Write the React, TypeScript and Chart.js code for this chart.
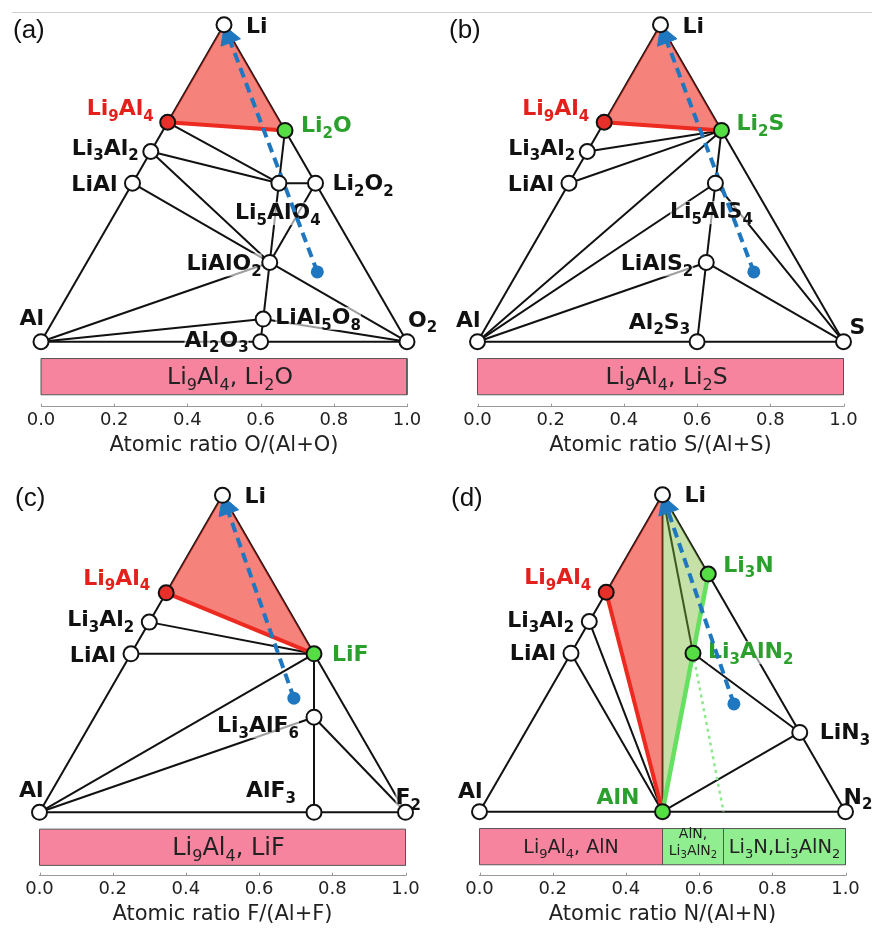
import React, { useEffect, useRef } from "react";
import { Chart, registerables } from "chart.js";

Chart.register(...registerables);

// ---------------- data ----------------
// Phase: [formula, Li atomic fraction, anion atomic fraction]
type Phase = [string, number, number];
type Tie = [string, string];
type BarSeg = [number, number, string];

const TICK_VALUES = [0, 0.2, 0.4, 0.6, 0.8, 1.0];

// ---- Li-Al-O ----
const PHASES_O: Phase[] = [
  ["Li", 1, 0], ["Al", 0, 0], ["O2", 0, 1],
  ["Li9Al4", 9 / 13, 0], ["Li3Al2", 3 / 5, 0], ["LiAl", 1 / 2, 0],
  ["Li2O", 2 / 3, 1 / 3], ["Li2O2", 1 / 2, 1 / 2], ["Li5AlO4", 5 / 10, 4 / 10],
  ["LiAlO2", 1 / 4, 2 / 4], ["LiAl5O8", 1 / 14, 8 / 14], ["Al2O3", 0, 3 / 5],
];
const TIES_O: Tie[] = [
  ["Al", "Li"], ["Li", "O2"], ["Al", "O2"],
  ["Li9Al4", "Li5AlO4"], ["Li3Al2", "Li5AlO4"], ["Li3Al2", "LiAlO2"], ["LiAl", "LiAlO2"],
  ["Li2O", "Li5AlO4"], ["Li5AlO4", "Li2O2"], ["Li5AlO4", "LiAlO2"], ["Li2O2", "LiAlO2"],
  ["LiAlO2", "O2"], ["LiAlO2", "Al"], ["LiAlO2", "LiAl5O8"], ["Al", "LiAl5O8"],
  ["LiAl5O8", "O2"], ["LiAl5O8", "Al2O3"],
];
const RED_TIES_O: Tie[] = [["Li9Al4", "Li2O"]];
const RED_REGION_O = ["Li", "Li9Al4", "Li2O"];
const PRODUCTS_O = ["Li2O"];
const START_O: [number, number] = [0.22, 0.645];
const BAR_O: BarSeg[] = [[0, 1, "Li9Al4, Li2O"]];

// ---- Li-Al-S ----
const PHASES_S: Phase[] = [
  ["Li", 1, 0], ["Al", 0, 0], ["S", 0, 1],
  ["Li9Al4", 9 / 13, 0], ["Li3Al2", 3 / 5, 0], ["LiAl", 1 / 2, 0],
  ["Li2S", 2 / 3, 1 / 3], ["Li5AlS4", 5 / 10, 4 / 10], ["LiAlS2", 1 / 4, 2 / 4], ["Al2S3", 0, 3 / 5],
];
const TIES_S: Tie[] = [
  ["Al", "Li"], ["Li", "S"], ["Al", "S"],
  ["Li3Al2", "Li2S"], ["LiAl", "Li2S"], ["Al", "Li2S"], ["Al", "Li5AlS4"], ["Al", "LiAlS2"],
  ["Li2S", "Li5AlS4"], ["Li5AlS4", "LiAlS2"], ["Li5AlS4", "S"], ["LiAlS2", "Al2S3"], ["LiAlS2", "S"],
];
const RED_TIES_S: Tie[] = [["Li9Al4", "Li2S"]];
const RED_REGION_S = ["Li", "Li9Al4", "Li2S"];
const PRODUCTS_S = ["Li2S"];
const START_S: [number, number] = [0.22, 0.645];
const BAR_S: BarSeg[] = [[0, 1, "Li9Al4, Li2S"]];

// ---- Li-Al-F ----
const PHASES_F: Phase[] = [
  ["Li", 1, 0], ["Al", 0, 0], ["F2", 0, 1],
  ["Li9Al4", 9 / 13, 0], ["Li3Al2", 3 / 5, 0], ["LiAl", 1 / 2, 0],
  ["LiF", 1 / 2, 1 / 2], ["Li3AlF6", 3 / 10, 6 / 10], ["AlF3", 0, 3 / 4],
];
const TIES_F: Tie[] = [
  ["Al", "Li"], ["Li", "F2"], ["Al", "F2"],
  ["Li3Al2", "LiF"], ["LiAl", "LiF"], ["Al", "LiF"], ["Al", "Li3AlF6"],
  ["LiF", "Li3AlF6"], ["Li3AlF6", "AlF3"], ["Li3AlF6", "F2"],
];
const RED_TIES_F: Tie[] = [["Li9Al4", "LiF"]];
const RED_REGION_F = ["Li", "Li9Al4", "LiF"];
const PRODUCTS_F = ["LiF"];
const START_F: [number, number] = [0.36, 0.515];
const BAR_F: BarSeg[] = [[0, 1, "Li9Al4, LiF"]];

// ---- Li-Al-N ----
const PHASES_N: Phase[] = [
  ["Li", 1, 0], ["Al", 0, 0], ["N2", 0, 1],
  ["Li9Al4", 9 / 13, 0], ["Li3Al2", 3 / 5, 0], ["LiAl", 1 / 2, 0],
  ["AlN", 0, 1 / 2], ["Li3N", 3 / 4, 1 / 4], ["Li3AlN2", 3 / 6, 2 / 6], ["LiN3", 1 / 4, 3 / 4],
];
const TIES_N: Tie[] = [
  ["Al", "Li"], ["Li", "N2"], ["Al", "N2"],
  ["LiAl", "AlN"], ["Li3Al2", "AlN"], ["Li", "AlN"], ["Li", "Li3AlN2"],
  ["Li3AlN2", "LiN3"], ["AlN", "LiN3"],
];
const RED_TIES_N: Tie[] = [["Li9Al4", "AlN"]];
const GREEN_TIES_N: Tie[] = [["Li3N", "AlN"]];
const RED_REGION_N = ["Li", "Li9Al4", "AlN"];
const GREEN_REGION_N = ["Li", "Li3N", "AlN"];
// dotted guide from Li3AlN2 to the base at N/(Al+N) = 2/3 (composition [Li, N])
const GUIDE_N: [string, [number, number]][] = [["Li3AlN2", [0, 2 / 3]]];
const PRODUCTS_N = ["AlN", "Li3N", "Li3AlN2"];
const START_N: [number, number] = [0.34, 0.525];
const BAR_N: BarSeg[] = [[0, 0.5, "Li9Al4, AlN"], [0.5, 2 / 3, "AlN,\nLi3AlN2"], [2 / 3, 1, "Li3N,Li3AlN2"]];

// ---------------- styles / layout ----------------
const K = 366; // px per composition unit (both axes)
const H = Math.sqrt(3) / 2;
const PAD_TOP = 4;
const AXIS_H = 21.6 + 6 + 22.05;
const BAR_TOP = -0.046;
const BAR_BOTTOM = -0.145;

const INK = "#111111";
const RED_TXT = "#e3201b";
const GREEN_TXT = "#2ca02c";
const RED_DOT = "#e8302a";
const GREEN_DOT = "#55dd44";
const RED_FILL = "rgba(240,40,30,0.58)";
const GREEN_FILL = "rgba(120,185,50,0.43)";
const RED_LINE = "#ec2a20";
const GREEN_LINE = "#66e060";
const GUIDE_COLOR = "#8ee88e";
const BLUE = "#1f77c0";
const PINK = "#f7849f";
const LGREEN = "#90ee90";
const FONT = '"DejaVu Sans", "Liberation Sans", sans-serif';

type LabelSpec = [string, string, number, number, "left" | "right" | "center", "k" | "r" | "g"];

const LABELS_O: LabelSpec[] = [
  ["Li", "Li", 22, 8, "left", "k"],
  ["Li9Al4", "Li9Al4", -14, -7, "right", "r"],
  ["Li2O", "Li2O", 16, 2, "left", "g"],
  ["Li3Al2", "Li3Al2", -12, 3, "right", "k"],
  ["LiAl", "LiAl", -15, 8, "right", "k"],
  ["Li2O2", "Li2O2", 17, 7, "left", "k"],
  ["Li5AlO4", "Li5AlO4", -1, 36, "center", "k"],
  ["LiAlO2", "LiAlO2", -8, 8, "right", "k"],
  ["LiAl5O8", "LiAl5O8", 12, 5, "left", "k"],
  ["Al2O3", "Al2O3", -12, 5, "right", "k"],
  ["Al", "Al", 3, -17, "right", "k"],
  ["O2", "O2", 1, -15, "left", "k"],
];
const LABELS_S: LabelSpec[] = [
  ["Li", "Li", 22, 8, "left", "k"],
  ["Li9Al4", "Li9Al4", -15, -7, "right", "r"],
  ["Li2S", "Li2S", 15, 0, "left", "g"],
  ["Li3Al2", "Li3Al2", -12, 3, "right", "k"],
  ["LiAl", "LiAl", -15, 8, "right", "k"],
  ["Li5AlS4", "Li5AlS4", -4, 35, "center", "k"],
  ["LiAlS2", "LiAlS2", -13, 8, "right", "k"],
  ["Al2S3", "Al2S3", -7, -13, "right", "k"],
  ["Al", "Al", 3, -15, "right", "k"],
  ["S", "S", 6, -8, "left", "k"],
];
const LABELS_F: LabelSpec[] = [
  ["Li", "Li", 22, 8, "left", "k"],
  ["Li9Al4", "Li9Al4", -16, -8, "right", "r"],
  ["Li3Al2", "Li3Al2", -15, 4, "right", "k"],
  ["LiAl", "LiAl", -15, 8, "right", "k"],
  ["LiF", "LiF", 18, 7, "left", "g"],
  ["Li3AlF6", "Li3AlF6", -15, 15, "right", "k"],
  ["AlF3", "AlF3", -18, -15, "right", "k"],
  ["Al", "Al", 4, -15, "right", "k"],
  ["F2", "F2", -10, -8, "left", "k"],
];
const LABELS_N: LabelSpec[] = [
  ["Li", "Li", 22, 7, "left", "k"],
  ["Li9Al4", "Li9Al4", -15, -8, "right", "r"],
  ["Li3Al2", "Li3Al2", -15, 5, "right", "k"],
  ["LiAl", "LiAl", -15, 7, "right", "k"],
  ["Li3N", "Li3N", 15, -2, "left", "g"],
  ["Li3AlN2", "Li3AlN2", 15, 5, "left", "g"],
  ["LiN3", "LiN3", 20, 7, "left", "k"],
  ["AlN", "AlN", -23, -8, "right", "g"],
  ["Al", "Al", 3, -14, "right", "k"],
  ["N2", "N2", -2, -8, "left", "k"],
];

interface Layout {
  left: number; top: number; height: number; padLeft: number;
  baseY: number; axisY: number; tagX: number; tagY: number;
}

interface PanelCfg {
  tag: string; axisTitle: string;
  phases: Phase[]; ties: Tie[]; redTies: Tie[]; greenTies: Tie[];
  guides: [string, [number, number]][];
  redRegion: string[]; greenRegion: string[] | null;
  products: string[]; start: [number, number];
  bar: BarSeg[]; barColors: string[]; barDx: number[]; barFont: number[];
  labels: LabelSpec[]; layout: Layout;
}

const PANELS: PanelCfg[] = [
  {
    tag: "(a)", axisTitle: "Atomic ratio O/(Al+O)",
    phases: PHASES_O, ties: TIES_O, redTies: RED_TIES_O, greenTies: [], guides: [],
    redRegion: RED_REGION_O, greenRegion: null, products: PRODUCTS_O, start: START_O,
    bar: BAR_O, barColors: [PINK], barDx: [6], barFont: [23.5], labels: LABELS_O,
    layout: { left: 0, top: 0, height: 464, padLeft: 41, baseY: 341.7, axisY: 406.7, tagX: 13, tagY: 38 },
  },
  {
    tag: "(b)", axisTitle: "Atomic ratio S/(Al+S)",
    phases: PHASES_S, ties: TIES_S, redTies: RED_TIES_S, greenTies: [], guides: [],
    redRegion: RED_REGION_S, greenRegion: null, products: PRODUCTS_S, start: START_S,
    bar: BAR_S, barColors: [PINK], barDx: [6], barFont: [23.5], labels: LABELS_S,
    layout: { left: 436, top: 0, height: 464, padLeft: 41.5, baseY: 341.7, axisY: 406.7, tagX: 13, tagY: 38 },
  },
  {
    tag: "(c)", axisTitle: "Atomic ratio F/(Al+F)",
    phases: PHASES_F, ties: TIES_F, redTies: RED_TIES_F, greenTies: [], guides: [],
    redRegion: RED_REGION_F, greenRegion: null, products: PRODUCTS_F, start: START_F,
    bar: BAR_F, barColors: [PINK], barDx: [6], barFont: [24], labels: LABELS_F,
    layout: { left: 0, top: 470, height: 458, padLeft: 39.5, baseY: 342.3, axisY: 405.7, tagX: 15, tagY: 36 },
  },
  {
    tag: "(d)", axisTitle: "Atomic ratio N/(Al+N)",
    phases: PHASES_N, ties: TIES_N, redTies: RED_TIES_N, greenTies: GREEN_TIES_N, guides: GUIDE_N,
    redRegion: RED_REGION_N, greenRegion: GREEN_REGION_N, products: PRODUCTS_N, start: START_N,
    bar: BAR_N, barColors: [PINK, LGREEN, LGREEN], barDx: [0, 0, 0], barFont: [19, 14, 19.5], labels: LABELS_N,
    layout: { left: 436, top: 470, height: 458, padLeft: 43.5, baseY: 341.7, axisY: 405.7, tagX: 15, tagY: 36 },
  },
];

// ---------------- helpers ----------------
function toXY(li: number, an: number) {
  return { x: an + li / 2, y: li * H };
}

function drawFormula(
  ctx: CanvasRenderingContext2D, text: string, x: number, y: number, size: number,
  bold: boolean, color: string, align: "left" | "right" | "center", bg?: string
) {
  const w = bold ? "bold " : "";
  const mainF = `${w}${size}px ${FONT}`;
  const subSize = Math.round(size * 0.68);
  const subF = `${w}${subSize}px ${FONT}`;
  const parts = text.split(/(\d+)/).filter((s) => s.length > 0);
  const widths = parts.map((pt) => {
    ctx.font = /^\d+$/.test(pt) ? subF : mainF;
    return ctx.measureText(pt).width;
  });
  const total = widths.reduce((a, b) => a + b, 0);
  let x0 = align === "left" ? x : align === "right" ? x - total : x - total / 2;
  if (bg) {
    ctx.fillStyle = bg;
    ctx.fillRect(x0, y - size * 0.78, total, size * 1.05);
  }
  ctx.fillStyle = color;
  ctx.textAlign = "left";
  ctx.textBaseline = "alphabetic";
  parts.forEach((pt, i) => {
    const sub = /^\d+$/.test(pt);
    ctx.font = sub ? subF : mainF;
    ctx.fillText(pt, x0, y + (sub ? size * 0.25 : 0));
    x0 += widths[i];
  });
}

function buildConfig(p: PanelCfg): any {
  const L = p.layout;
  const ymin = -(L.axisY - L.baseY) / K;
  const ymax = ymin + (L.axisY - PAD_TOP) / K;
  const padBottom = L.height - L.axisY - AXIS_H;
  const padRight = 436 - L.padLeft - K;

  const pos: Record<string, { x: number; y: number }> = {};
  for (const ph of p.phases) pos[ph[0]] = toXY(ph[1], ph[2]);

  const line = (pts: any[], extra: any) => ({
    data: pts, showLine: true, pointRadius: 0, pointHoverRadius: 0, clip: false, ...extra,
  });
  const closed = (names: string[]) => [...names.map((n) => pos[n]), pos[names[0]]];

  const datasets: any[] = [];
  // composition bar
  p.bar.forEach((seg, i) => {
    const [from, to] = seg;
    datasets.push(line(
      [{ x: from, y: BAR_TOP }, { x: to, y: BAR_TOP }, { x: to, y: BAR_BOTTOM }, { x: from, y: BAR_BOTTOM }, { x: from, y: BAR_TOP }],
      { fill: "shape", backgroundColor: p.barColors[i], borderColor: "#555", borderWidth: 1, order: 10 }
    ));
  });
  // black tie lines
  p.ties.forEach(([a, b]) => datasets.push(line([pos[a], pos[b]], { borderColor: INK, borderWidth: 2, order: 9 })));
  // shaded regions (semi-transparent over tie lines)
  datasets.push(line(closed(p.redRegion), {
    fill: "shape", backgroundColor: RED_FILL, borderColor: "rgba(0,0,0,0)", borderWidth: 1, order: 8,
  }));
  if (p.greenRegion) {
    datasets.push(line(closed(p.greenRegion), {
      fill: "shape", backgroundColor: GREEN_FILL, borderColor: "rgba(0,0,0,0)", borderWidth: 1, order: 8,
    }));
  }
  // coloured tie lines
  p.redTies.forEach(([a, b]) => datasets.push(line([pos[a], pos[b]], { borderColor: RED_LINE, borderWidth: 4, order: 7 })));
  p.greenTies.forEach(([a, b]) => datasets.push(line([pos[a], pos[b]], { borderColor: GREEN_LINE, borderWidth: 4.5, order: 7 })));
  p.guides.forEach(([a, comp]) => datasets.push(line([pos[a], toXY(comp[0], comp[1])], {
    borderColor: GUIDE_COLOR, borderWidth: 2.5, borderDash: [3, 4], order: 7,
  })));
  // reaction arrow
  const s = toXY(p.start[0], p.start[1]);
  const e = pos["Li"];
  const dx = s.x - e.x, dy = s.y - e.y;
  const len = Math.hypot(dx, dy);
  const back = 13 / K;
  const hc = { x: e.x + (dx / len) * back, y: e.y + (dy / len) * back };
  const rot = (Math.atan2(-dx, -dy) * 180) / Math.PI;
  datasets.push(line([s, hc], {
    label: "arrow", borderColor: BLUE, borderWidth: 4, borderDash: [10, 6],
    pointRadius: [6.5, 0], pointBackgroundColor: BLUE, pointBorderWidth: 0, order: 3,
  }));
  datasets.push({
    data: [hc], showLine: false, pointStyle: "triangle", pointRadius: 12, pointRotation: rot,
    pointBackgroundColor: BLUE, pointBorderColor: BLUE, pointBorderWidth: 1, clip: false, order: 2,
  });
  // phase points
  datasets.push({
    data: p.phases.map((ph) => pos[ph[0]]), showLine: false, clip: false, order: 1,
    pointRadius: 7.5, pointHoverRadius: 7.5, pointBorderWidth: 2, pointBorderColor: INK,
    pointBackgroundColor: p.phases.map((ph) =>
      ph[0] === "Li9Al4" ? RED_DOT : p.products.includes(ph[0]) ? GREEN_DOT : "#ffffff"),
  });

  const textPlugin = {
    id: "ternaryText",
    beforeDatasetDraw(chart: any, args: any) {
      if (chart.data.datasets[args.index].label !== "arrow") return;
      const ctx = chart.ctx as CanvasRenderingContext2D;
      const xs = chart.scales.x, ys = chart.scales.y;
      ctx.save();
      for (const [text, anchor, ox, oy, align, c] of p.labels) {
        const pt = pos[anchor];
        const color = c === "r" ? RED_TXT : c === "g" ? GREEN_TXT : INK;
        drawFormula(ctx, text, xs.getPixelForValue(pt.x) + ox, ys.getPixelForValue(pt.y) + oy,
          22, true, color, align, "rgba(255,255,255,0.6)");
      }
      ctx.restore();
    },
    afterDraw(chart: any) {
      const ctx = chart.ctx as CanvasRenderingContext2D;
      const xs = chart.scales.x, ys = chart.scales.y;
      const area = chart.chartArea;
      ctx.save();
      // small tick marks above the axis line
      ctx.strokeStyle = "#999";
      ctx.lineWidth = 1;
      for (const v of TICK_VALUES) {
        const x = Math.round(xs.getPixelForValue(v)) + 0.5;
        ctx.beginPath();
        ctx.moveTo(x, area.bottom);
        ctx.lineTo(x, area.bottom - 3);
        ctx.stroke();
      }
      // bar labels
      const yc = ys.getPixelForValue((BAR_TOP + BAR_BOTTOM) / 2);
      p.bar.forEach(([from, to, text], i) => {
        const xc = xs.getPixelForValue((from + to) / 2) + p.barDx[i];
        const lines = text.split("\n");
        const fs = p.barFont[i];
        if (lines.length === 1) {
          drawFormula(ctx, text, xc, yc + fs * 0.33, fs, false, "#222", "center");
        } else {
          drawFormula(ctx, lines[0], xc, yc - 9, fs, false, "#222", "center");
          drawFormula(ctx, lines[1], xc, yc + 8, fs, false, "#222", "center");
        }
      });
      // panel tag
      ctx.fillStyle = "#111";
      ctx.font = `26px "Liberation Sans", Arial, sans-serif`;
      ctx.textAlign = "left";
      ctx.textBaseline = "alphabetic";
      ctx.fillText(p.tag, L.tagX, L.tagY);
      ctx.restore();
    },
  };

  return {
    type: "scatter",
    data: { datasets },
    options: {
      responsive: false,
      animation: false,
      devicePixelRatio: 1,
      events: [],
      layout: { autoPadding: false, padding: { left: L.padLeft, right: padRight, top: PAD_TOP, bottom: padBottom } },
      plugins: { legend: { display: false }, tooltip: { enabled: false } },
      scales: {
        x: {
          type: "linear", position: "bottom", min: 0, max: 1,
          afterBuildTicks: (axis: any) => { axis.ticks = TICK_VALUES.map((value) => ({ value })); },
          grid: { display: false, drawTicks: false },
          border: { display: true, color: "#999", width: 1 },
          ticks: {
            padding: 3, maxRotation: 0, autoSkip: false, color: "#222",
            font: { family: FONT, size: 18, lineHeight: 1.2 },
            callback: (v: any) => Number(v).toFixed(1),
          },
          title: {
            display: true, text: p.axisTitle, color: "#222",
            font: { family: FONT, size: 21, lineHeight: 1.05 },
            padding: { top: 0, bottom: 0 },
          },
        },
        y: { type: "linear", display: false, min: ymin, max: ymax },
      },
    },
    plugins: [textPlugin],
  };
}

function Panel({ cfg }: { cfg: PanelCfg }) {
  const ref = useRef<HTMLCanvasElement>(null);
  useEffect(() => {
    const chart = new Chart(ref.current as HTMLCanvasElement, buildConfig(cfg));
    let alive = true;
    if ((document as any).fonts && (document as any).fonts.ready) {
      (document as any).fonts.ready.then(() => { if (alive) chart.update(); });
    }
    return () => { alive = false; chart.destroy(); };
  }, [cfg]);
  const L = cfg.layout;
  return (
    <canvas
      ref={ref}
      width={436}
      height={L.height}
      style={{ position: "absolute", left: L.left, top: L.top, width: 436, height: L.height }}
    />
  );
}

export default function App() {
  return (
    <div style={{ position: "absolute", left: 0, top: 0, width: 872, height: 928, background: "#fff", overflow: "hidden" }}>
      <div style={{ position: "absolute", left: 12, top: 12, width: 860, height: 1, background: "#d0d0d0" }} />
      {PANELS.map((p) => (
        <Panel key={p.tag} cfg={p} />
      ))}
    </div>
  );
}
